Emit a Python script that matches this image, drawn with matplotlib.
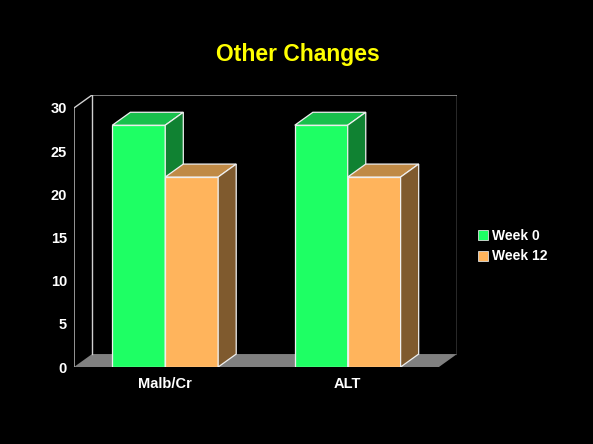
import matplotlib.pyplot as plt
from matplotlib.patches import Polygon, Patch

plt.rcParams['font.family'] = ['Liberation Sans', 'DejaVu Sans']

categories = ['Malb/Cr', 'ALT']
series = ['Week 0', 'Week 12']
week0 = [28, 28]
week12 = [22, 22]
yticks = [0, 5, 10, 15, 20, 25, 30]

# front, top, side shades per series
colours = [('#1eff64', '#18c04c', '#108232'),
           ('#ffb45c', '#c08a46', '#7f5a2e')]

W, H = 593, 444
fig = plt.figure(figsize=(W / 100, H / 100), dpi=100, facecolor='black')
ax = fig.add_axes([74 / W, (H - 367) / H, (457 - 74) / W, (367 - 95) / H])
ax.set_facecolor('black')

n = len(categories)
dx, dy = 0.099, 1.5      # depth offset of the 3d box
bw = 0.29                # width of one bar
ax.set_xlim(0, n + dx)
ax.set_ylim(0, 30 + dy)

# floor, back wall and left wall outline
ax.add_patch(Polygon([(0, 0), (n, 0), (n + dx, dy), (dx, dy)],
                     closed=True, fc='#808080', ec='none', zorder=1))
ax.plot([dx, n + dx], [30 + dy, 30 + dy], color='#909090', lw=1.2, zorder=1)
ax.plot([n + dx, n + dx], [dy, 30 + dy], color='#d0d0d0', lw=1.0, zorder=1)
ax.plot([dx, dx], [dy, 30 + dy], color='#d0d0d0', lw=1.0, zorder=1)
ax.plot([0, 0, dx], [0, 30, 30 + dy], color='#d0d0d0', lw=1.0, zorder=1)


def draw_bar(x0, v, cols, z):
    front, top, side = cols
    kw = dict(closed=True, ec='#f0f0f0', lw=0.9, zorder=z, joinstyle='miter')
    ax.add_patch(Polygon([(x0, 0), (x0 + bw, 0), (x0 + bw, v), (x0, v)], fc=front, **kw))
    ax.add_patch(Polygon([(x0, v), (x0 + bw, v), (x0 + bw + dx, v + dy), (x0 + dx, v + dy)],
                         fc=top, **kw))
    ax.add_patch(Polygon([(x0 + bw, 0), (x0 + bw + dx, dy), (x0 + bw + dx, v + dy), (x0 + bw, v)],
                         fc=side, **kw))


for i in range(n):
    left = i + 0.5 - bw
    for j, vals in enumerate([week0, week12]):
        draw_bar(left + j * bw, vals[i], colours[j], 2 + i * 2 + j)

for s in ax.spines.values():
    s.set_visible(False)
ax.set_yticks(yticks)
ax.set_yticklabels([str(t) for t in yticks])
ax.set_xticks([i + 0.5 for i in range(n)])
ax.set_xticklabels(categories)
ax.tick_params(length=0, colors='white', labelsize=10.5)
ax.tick_params(axis='y', pad=5)
ax.tick_params(axis='x', pad=7)
for lab in ax.get_xticklabels() + ax.get_yticklabels():
    lab.set_fontweight('bold')

fig.text(298 / W, 1 - 55 / H, 'Other Changes', color='#ffff00', fontsize=16.5,
         fontweight='bold', ha='center', va='center')

handles = [Patch(fc=colours[k][0], ec='#e0e0e0', lw=0.6) for k in range(2)]
leg = fig.legend(handles, series, loc='center left', bbox_to_anchor=(465 / W, 1 - 246 / H),
                 frameon=False, handlelength=0.75, handleheight=0.75, handletextpad=0.3,
                 labelspacing=0.5, prop=dict(weight='bold', size=10))
for t in leg.get_texts():
    t.set_color('white')

fig.savefig('out.png', dpi=100, facecolor='black')
